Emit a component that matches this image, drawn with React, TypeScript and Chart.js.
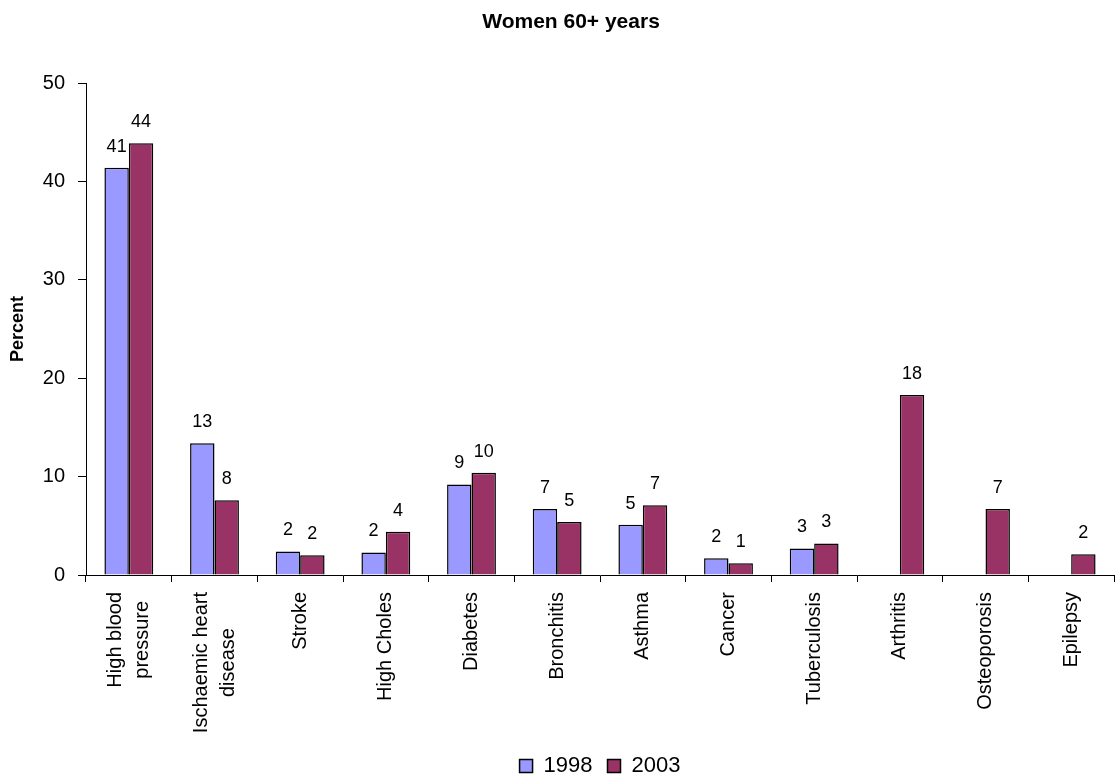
import React, { useEffect, useRef } from "react";
import { Chart, registerables } from "chart.js";

Chart.register(...registerables);

const categories: (string | string[])[] = [
  ["High blood", "pressure"],
  ["Ischaemic heart", "disease"],
  "Stroke",
  "High Choles",
  "Diabetes",
  "Bronchitis",
  "Asthma",
  "Cancer",
  "Tuberculosis",
  "Arthritis",
  "Osteoporosis",
  "Epilepsy",
];

const values1998: (number | null)[] = [41.4, 13.4, 2.4, 2.3, 9.2, 6.7, 5.1, 1.7, 2.7, null, null, null];
const values2003: (number | null)[] = [43.9, 7.6, 2.0, 4.4, 10.4, 5.4, 7.1, 1.2, 3.2, 18.3, 6.7, 2.1];

const yTicks = [0, 10, 20, 30, 40, 50];

const TITLE = "Women 60+ years";
const FONT = "'Liberation Sans', Arial, sans-serif";

const labelPlugin = {
  id: "valueLabels",
  afterDatasetsDraw(chart: any) {
    const ctx = chart.ctx;
    ctx.save();
    ctx.font = `18px ${FONT}`;
    ctx.fillStyle = "#000";
    ctx.textAlign = "center";
    ctx.textBaseline = "middle";
    chart.data.datasets.forEach((ds: any, i: number) => {
      const meta = chart.getDatasetMeta(i);
      meta.data.forEach((bar: any, j: number) => {
        const v = ds.data[j];
        if (v === null || v === undefined) return;
        ctx.fillText(String(Math.round(v)), bar.x, bar.y - 21);
      });
    });
    ctx.restore();
  },
};

const xLabelPlugin = {
  id: "xLabels",
  afterDraw(chart: any) {
    const ctx = chart.ctx;
    const xs = chart.scales.x;
    ctx.save();
    ctx.font = `20px ${FONT}`;
    ctx.fillStyle = "#000";
    ctx.textAlign = "center";
    ctx.textBaseline = "middle";
    (chart.data.labels as (string | string[])[]).forEach((c, i) => {
      const lines = Array.isArray(c) ? c : [c];
      const x = xs.getPixelForValue(i);
      const maxW = Math.max(...lines.map((l) => ctx.measureText(l).width));
      const top = xs.top + 17;
      ctx.save();
      ctx.translate(x, top + maxW / 2);
      ctx.rotate(-Math.PI / 2);
      lines.forEach((l, k) => {
        const dy = (k - (lines.length - 1) / 2) * 27;
        ctx.fillText(l, 0, dy);
      });
      ctx.restore();
    });
    // title
    ctx.font = `bold 21px ${FONT}`;
    ctx.fillText(TITLE, chart.width / 2 + 13, 22);
    ctx.restore();
  },
};

export default function App() {
  const ref = useRef<HTMLCanvasElement>(null);
  useEffect(() => {
    if (!ref.current) return;
    const chart = new Chart(ref.current, {
      type: "bar",
      data: {
        labels: categories,
        datasets: [
          {
            label: "1998",
            data: values1998,
            backgroundColor: "#9999FF",
            borderColor: "#000",
            borderWidth: 1.5,
            categoryPercentage: 0.57,
            barPercentage: 1,
          },
          {
            label: "2003",
            data: values2003,
            backgroundColor: "#993366",
            borderColor: "#000",
            borderWidth: 1.5,
            categoryPercentage: 0.57,
            barPercentage: 1,
          },
        ],
      },
      options: {
        responsive: false,
        animation: false,
        layout: { padding: { left: 0, right: 2, top: 0, bottom: 0 } },
        plugins: {
          title: {
            display: true,
            text: TITLE,
            color: "rgba(0,0,0,0)",
            font: { family: FONT, size: 21, weight: "bold" },
            padding: { top: 9, bottom: 49 },
          },
          legend: {
            position: "bottom",
            fullSize: false,
            labels: {
              color: "#000",
              font: { family: FONT, size: 22 },
              boxWidth: 13,
              boxHeight: 13,
              padding: 15,
            },
          },
          tooltip: { enabled: false },
        },
        scales: {
          x: {
            grid: {
              display: true,
              drawOnChartArea: false,
              offset: true,
              tickLength: 7,
              color: "#000",
            },
            border: { display: true, color: "#000", width: 1 },
            ticks: { display: false },
            afterFit: (s: any) => {
              s.height = 165;
            },
          },
          y: {
            min: 0,
            max: 50,
            afterBuildTicks: (s: any) => {
              s.ticks = yTicks.map((v) => ({ value: v }));
            },
            grid: {
              display: true,
              drawOnChartArea: false,
              tickLength: 8,
              color: "#000",
            },
            border: { display: true, color: "#000", width: 1 },
            ticks: {
              color: "#000",
              font: { family: FONT, size: 20 },
              padding: 13,
            },
            title: {
              display: true,
              text: "Percent",
              color: "#000",
              font: { family: FONT, size: 18, weight: "bold" },
              padding: { top: 7, bottom: 0 },
            },
            afterFit: (s: any) => {
              s.width = 86;
            },
          },
        },
      },
      plugins: [labelPlugin, xLabelPlugin],
    });
    return () => chart.destroy();
  }, []);
  return (
    <div
      style={{
        position: "fixed",
        left: 0,
        top: 0,
        width: 1116,
        height: 776,
        overflow: "hidden",
        background: "#fff",
      }}
    >
      <canvas ref={ref} width={1116} height={787} style={{ display: "block" }} />
    </div>
  );
}
